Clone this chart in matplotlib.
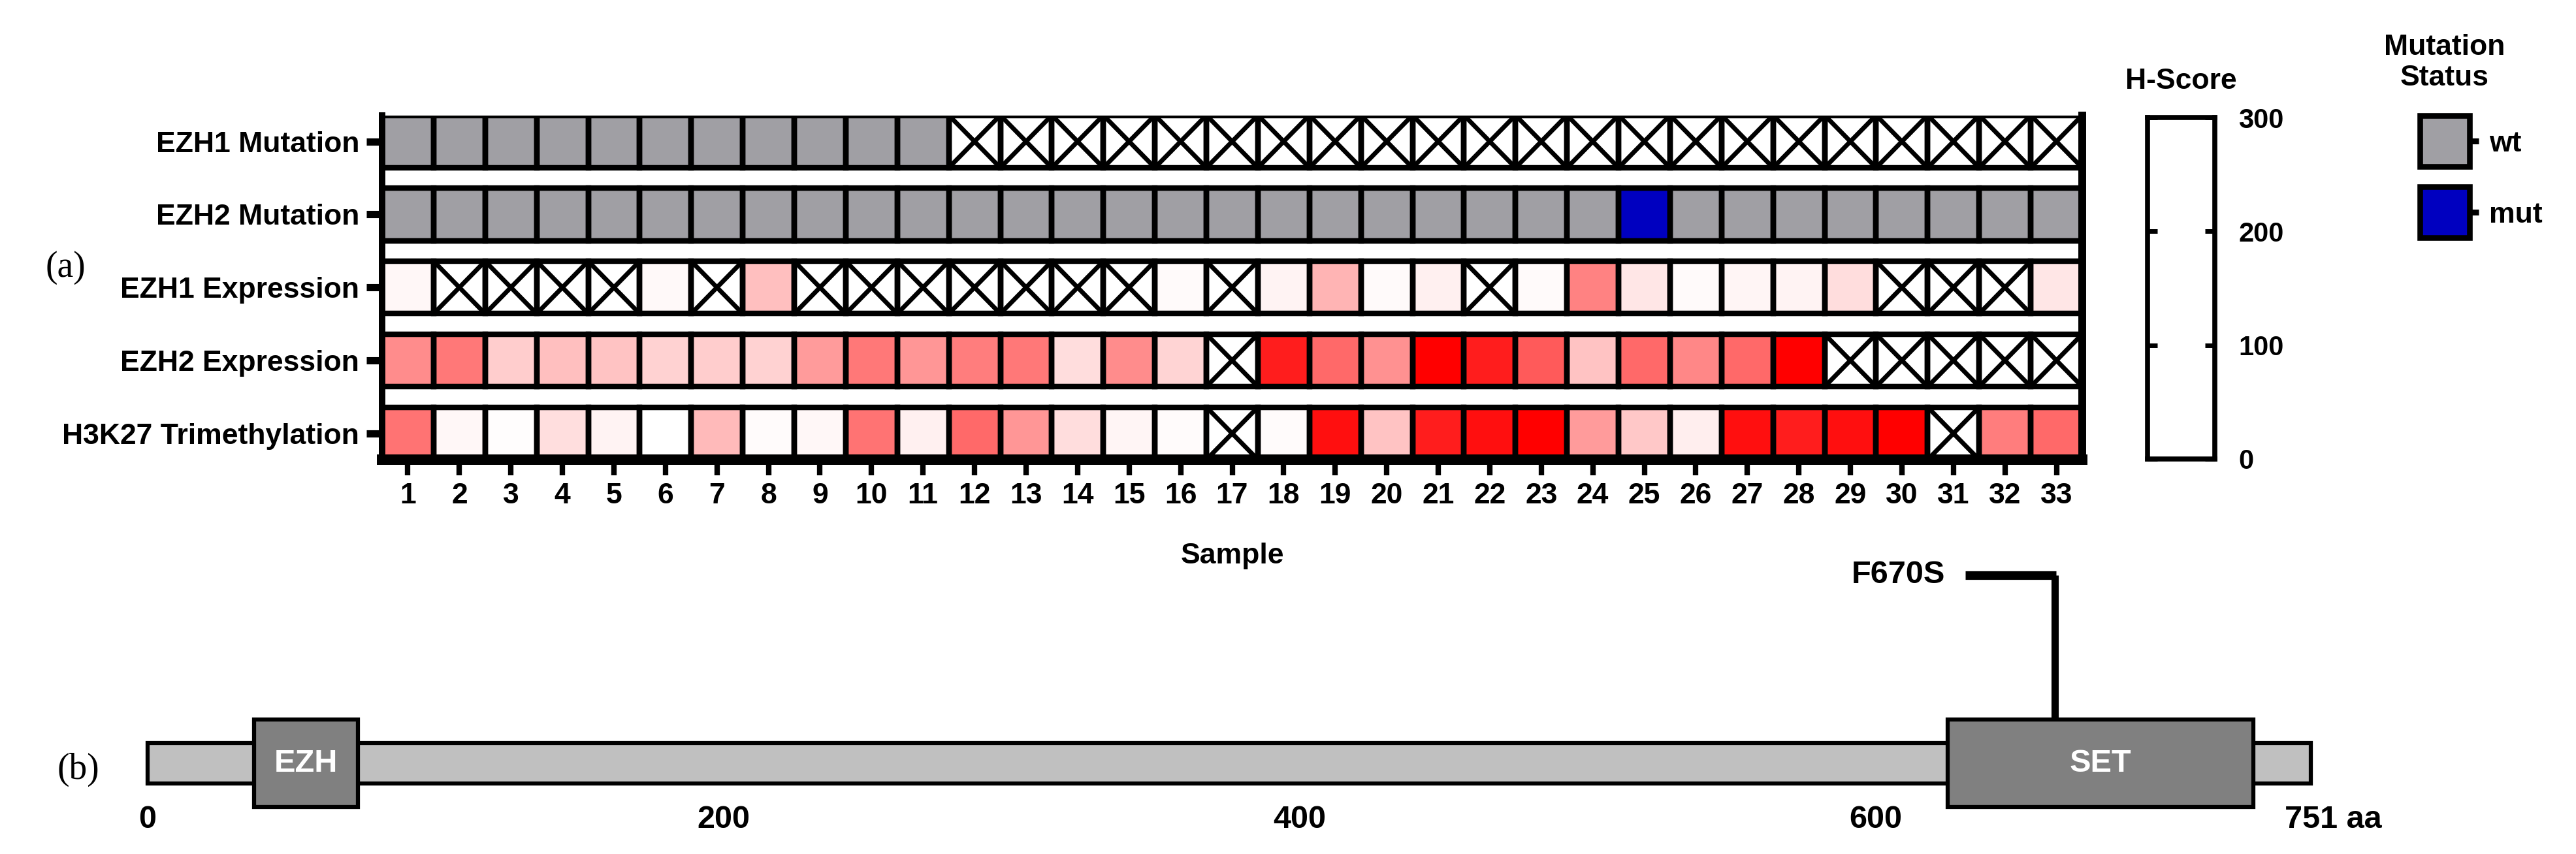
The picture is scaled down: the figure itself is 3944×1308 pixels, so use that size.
import matplotlib
matplotlib.use('Agg')
import matplotlib.pyplot as plt
from matplotlib.patches import Rectangle
from matplotlib.colors import LinearSegmentedColormap, Normalize
from matplotlib.transforms import ScaledTranslation

plt.rcParams['font.family'] = ['Liberation Sans', 'DejaVu Sans']
plt.rcParams['font.weight'] = 'bold'

### DATA ###

samples = list(range(1, 34))
row_names = ['EZH1 Mutation', 'EZH2 Mutation', 'EZH1 Expression',
             'EZH2 Expression', 'H3K27 Trimethylation']

# mutation status per sample (None = not done)
ezh1_mut = ['wt', 'wt', 'wt', 'wt', 'wt', 'wt', 'wt', 'wt', 'wt', 'wt', 'wt',
            None, None, None, None, None, None, None, None, None, None, None,
            None, None, None, None, None, None, None, None, None, None, None]
ezh2_mut = ['wt', 'wt', 'wt', 'wt', 'wt', 'wt', 'wt', 'wt', 'wt', 'wt', 'wt',
            'wt', 'wt', 'wt', 'wt', 'wt', 'wt', 'wt', 'wt', 'wt', 'wt', 'wt',
            'wt', 'wt', 'mut', 'wt', 'wt', 'wt', 'wt', 'wt', 'wt', 'wt', 'wt']

# H-scores (0-300), None = not done
ezh1_expr = [10, None, None, None, None, 8, None, 76, None, None, None,
             None, None, None, None, 6, None, 15, 88, 6, 18, None,
             6, 147, 30, 6, 12, 15, 41, None, None, None, 30]
ezh2_expr = [135, 159, 59, 76, 71, 53, 59, 53, 118, 159, 124,
             153, 159, 41, 135, 51, None, 265, 176, 130, 300, 265,
             194, 71, 176, 141, 176, 300, None, None, None, None, None]
h3k27_me3 = [165, 10, 3, 39, 15, 0, 82, 5, 10, 165, 18,
             176, 124, 41, 12, 5, None, 5, 282, 71, 265, 282,
             300, 118, 65, 20, 282, 265, 282, 300, None, 153, 176]

hscore_ticks = [0, 100, 200, 300]
status_names = ['wt', 'mut']
status_colors = {'wt': '#a09fa4', 'mut': '#0000c0'}

# protein diagram (panel b)
protein_len = 751
domains = [('EZH', 37, 73), ('SET', 625, 731)]
mutations = [('F670S', 662)]
aa_ticks = [0, 200, 400, 600, 751]
aa_labels = ['0', '200', '400', '600', '751 aa']

### FIGURE ###

W, H = 3944, 1308
fig = plt.figure(figsize=(W / 100, H / 100), dpi=100)


def px_axes(x0, y0, x1, y1):
    # place an axes using pixel corners of the reference image
    return fig.add_axes([x0 / W, 1 - y1 / H, (x1 - x0) / W, (y1 - y0) / H])


cmap = LinearSegmentedColormap.from_list('hscore', ['#ffffff', '#ff0000'])
norm = Normalize(0, 300)

# ---- heatmap ----
ax = px_axes(585, 176.5, 3188, 704)
ROW_STEP = 1.39
rows = [ezh1_mut, ezh2_mut, ezh1_expr, ezh2_expr, h3k27_me3]

for r, vals in enumerate(rows):
    top = r * ROW_STEP
    for s, v in zip(samples, vals):
        if v is None:
            face = 'white'
            ax.plot([s - 0.5, s + 0.5], [top, top + 1], color='black', lw=5,
                    solid_capstyle='butt', zorder=2)
            ax.plot([s - 0.5, s + 0.5], [top + 1, top], color='black', lw=5,
                    solid_capstyle='butt', zorder=2)
        elif isinstance(v, str):
            face = status_colors[v]
        else:
            face = cmap(norm(v))
        ax.add_patch(Rectangle((s - 0.5, top), 1, 1, facecolor=face,
                               edgecolor='none', zorder=1))
        ax.add_patch(Rectangle((s - 0.5, top), 1, 1, fill=False,
                               edgecolor='black', lw=6.1, zorder=3))

ax.set_xlim(0.5, 33.5)
ax.set_ylim(4 * ROW_STEP + 1, 0)
ax.spines['top'].set_visible(False)
ax.spines['left'].set_linewidth(7.2)
ax.spines['right'].set_linewidth(8.6)
ax.spines['bottom'].set_linewidth(11.5)
for sp in ax.spines.values():
    sp.set_zorder(4)

ax.set_xticks(samples)
ax.set_xticklabels([str(s) for s in samples], fontsize=32)
ax.tick_params(axis='x', length=17, width=6, pad=8)
ax.set_yticks([r * ROW_STEP + 0.5 for r in range(len(row_names))])
ax.set_yticklabels(row_names, fontsize=32)
ax.tick_params(axis='y', length=17, width=8, pad=8)
ax.set_xlabel('Sample', fontsize=32, fontweight='bold', labelpad=37)

# ---- H-score scale ----
ax_cb = px_axes(3288, 180, 3391, 703)
ax_cb.set_facecolor('white')
ax_cb.set_xlim(0, 1)
ax_cb.set_ylim(0, 300)
ax_cb.set_xticks([])
ax_cb.set_yticks(hscore_ticks)
ax_cb.set_yticklabels([str(t) for t in hscore_ticks], fontsize=30)
ax_cb.tick_params(axis='y', direction='in', left=True, right=True,
                  labelleft=False, labelright=True, length=11, width=5, pad=26)
for sp in ax_cb.spines.values():
    sp.set_linewidth(5.5)
ax_cb.annotate('H-Score', xy=(0.5, 1), xycoords='axes fraction',
               xytext=(0, 40), textcoords='offset points',
               ha='center', va='center', fontsize=32, fontweight='bold')

# ---- mutation status legend ----
ax_leg = px_axes(3705, 161.5, 3781, 379.5)
ax_leg.patch.set_visible(False)
ax_leg.set_xlim(0, 1)
ax_leg.set_ylim(len(status_names) - 0.5, -0.5)
for i, name in enumerate(status_names):
    ax_leg.add_patch(Rectangle((0, i - 0.358), 1, 0.716,
                               facecolor=status_colors[name],
                               edgecolor='black', lw=6.2, clip_on=False))
for sp in ax_leg.spines.values():
    sp.set_visible(False)
ax_leg.set_xticks([])
ax_leg.set_yticks(range(len(status_names)))
ax_leg.set_yticklabels(status_names, fontsize=32)
ax_leg.tick_params(axis='y', left=False, right=True, labelleft=False,
                   labelright=True, length=10, width=6.5, pad=11.5)
ax_leg.annotate('Mutation\nStatus', xy=(0.5, 1), xycoords='axes fraction',
                xytext=(0, 47), textcoords='offset points', ha='center',
                va='center', fontsize=32, fontweight='bold', linespacing=1.2)

# ---- protein diagram ----
ax_p = px_axes(182, 843.5, 3666, 1236)
ax_p.patch.set_visible(False)
ax_p.set_xlim(-10, 780)
ax_p.set_ylim(-2.16, 10.5)
ax_p.add_patch(Rectangle((0, -1), protein_len, 2, facecolor='#c0c0c0',
                         edgecolor='black', lw=4.5, zorder=1))
for name, start, end in domains:
    ax_p.add_patch(Rectangle((start, -2.16), end - start, 4.32,
                             facecolor='#808080', edgecolor='black', lw=4.5,
                             zorder=2, clip_on=False))
    ax_p.text((start + end) / 2, 0, name, color='white', fontsize=35,
              fontweight='bold', ha='center', va='center', zorder=3)
for label, pos in mutations:
    ax_p.plot([pos, pos], [2.16, 9.3], color='black', lw=8,
              solid_capstyle='butt', zorder=1)
    ax_p.plot([pos - 31, pos + 0.6], [9.3, 9.3], color='black', lw=9.5,
              solid_capstyle='butt', zorder=1)
    ax_p.annotate(label, xy=(pos - 31, 9.3), xytext=(-22, 0),
                  textcoords='offset points', ha='right', va='center',
                  fontsize=35, fontweight='bold')
for sp in ax_p.spines.values():
    sp.set_visible(False)
ax_p.set_yticks([])
ax_p.set_xticks(aa_ticks)
ax_p.set_xticklabels(aa_labels, fontsize=35)
ax_p.tick_params(axis='x', length=0, pad=-2)
last = ax_p.get_xticklabels()[-1]
last.set_transform(last.get_transform() +
                   ScaledTranslation(34 / 100, 0, fig.dpi_scale_trans))

# panel letters
fig.text(100 / W, 1 - 410 / H, '(a)', fontsize=40, fontweight='normal',
         family=['Liberation Serif', 'DejaVu Serif'], ha='center', va='center')
fig.text(120 / W, 1 - 1179 / H, '(b)', fontsize=40, fontweight='normal',
         family=['Liberation Serif', 'DejaVu Serif'], ha='center', va='center')

fig.savefig('out.png', dpi=100, facecolor='white')
